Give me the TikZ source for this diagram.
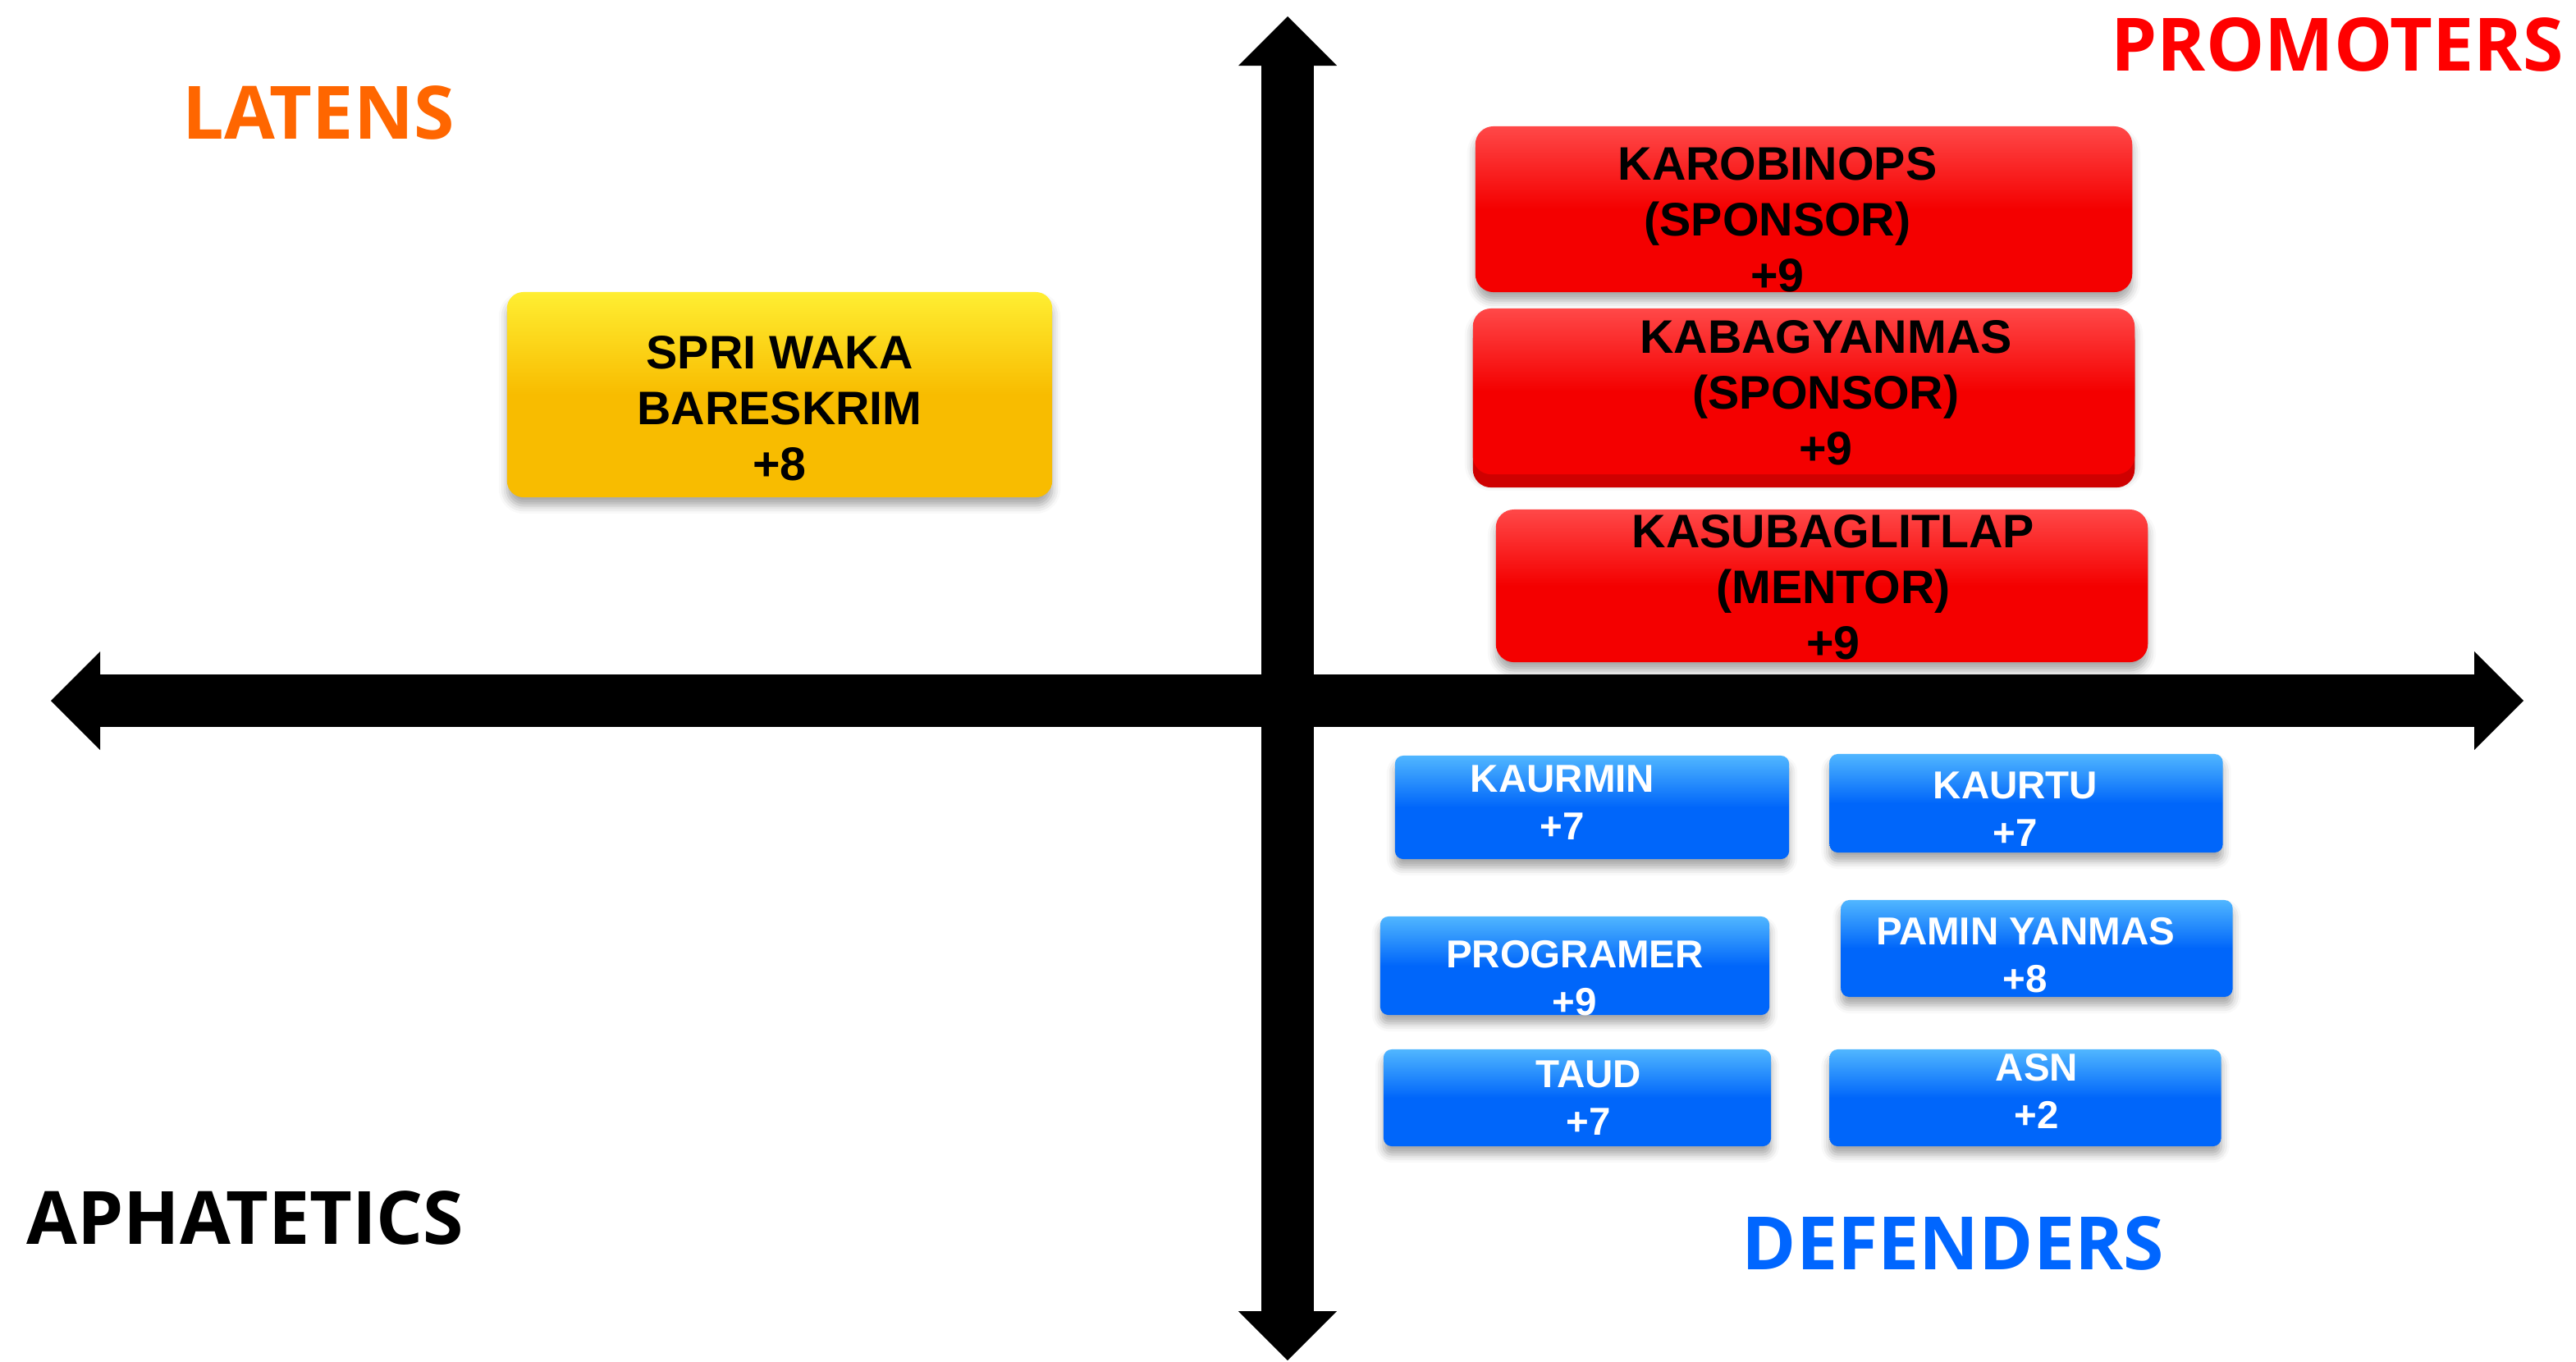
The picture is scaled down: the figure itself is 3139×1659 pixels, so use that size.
\documentclass[tikz,border=0pt]{standalone}
\usepackage{fontspec}
\usetikzlibrary{arrows.meta, shadows, shadows.blur}
\newfontfamily\quadfont{Open Sans}
\newfontfamily\boxfont{Liberation Sans}
\definecolor{latorange}{RGB}{255,102,0}
\definecolor{promred}{RGB}{255,0,0}
\definecolor{defblue}{RGB}{0,102,255}
\definecolor{boxred}{RGB}{244,0,0}
\definecolor{boxredtop}{RGB}{255,72,72}
\definecolor{boxgold}{RGB}{248,188,0}
\definecolor{boxgoldtop}{RGB}{255,238,50}
\definecolor{boxblue}{RGB}{0,102,250}
\definecolor{boxbluetop}{RGB}{80,182,255}
\tikzset{
    quadlbl/.style={font=\quadfont\bfseries\fontsize{25.5}{30}\selectfont, inner sep=0pt},
    glossbox/.style={rectangle, draw=none, blur shadow={shadow xshift=0pt, shadow yshift=-1mm, shadow blur radius=1mm, shadow opacity=35}},
    redbox/.style={glossbox, rounded corners=2.2mm, top color=boxredtop, bottom color=boxred, middle color=boxred},
    goldbox/.style={glossbox, rounded corners=2mm, top color=boxgoldtop, bottom color=boxgold, middle color=boxgold},
    bluebox/.style={glossbox, rounded corners=1mm, top color=boxbluetop, bottom color=boxblue, middle color=boxblue},
    bigtxt/.style={font=\boxfont\bfseries\fontsize{16.3}{19.3}\selectfont, align=center, text=black},
    smalltxt/.style={font=\boxfont\bfseries\fontsize{13.5}{16.5}\selectfont, align=center, text=white},
    axis/.style={line width=6.4mm, {Triangle[length=6mm, width=12mm, line width=0pt]}-{Triangle[length=6mm, width=12mm, line width=0pt]}},
}

\begin{document}
\begin{tikzpicture}[x=0.01cm, y=-0.01cm]
\useasboundingbox (0,0) rectangle (3139,1659);

% axes
\coordinate (west) at (62,854);
\coordinate (east) at (3075,854);
\coordinate (north) at (1569,20);
\coordinate (south) at (1569,1658);
\draw[axis] (west) -- (east);
\draw[axis] (north) -- (south);

% quadrant titles
\node[quadlbl, text=latorange] (latens) at (388,137) {LATENS};
\node[quadlbl, text=promred] (promoters) at (2848,54) {PROMOTERS};
\node[quadlbl, text=black] (aphatetics) at (299,1484) {APHATETICS};
\node[quadlbl, text=defblue] (defenders) at (2380,1515) {DEFENDERS};

% latens
\node[goldbox, minimum width=66.4mm, minimum height=25mm,
      label={[bigtxt, yshift=-1.7mm]center:SPRI WAKA\\BARESKRIM\\+8}] (spri) at (950,481) {};

% promoters
\node[redbox, minimum width=80mm, minimum height=20.2mm,
      label={[bigtxt, xshift=-3.2mm, yshift=-1.3mm]center:KAROBINOPS\\(SPONSOR)\\+9}] (karo) at (2198,255) {};
\node[redbox, general shadow={shadow yshift=-1.6mm, fill=boxred!85!black}, minimum width=80.6mm, minimum height=20.2mm,
      label={[bigtxt, xshift=2.7mm, yshift=-0.2mm]center:KABAGYANMAS\\(SPONSOR)\\+9}] (kabag) at (2198,477) {};
\node[redbox, minimum width=79.4mm, minimum height=18.6mm,
      label={[bigtxt, xshift=1.4mm, yshift=-0.2mm]center:KASUBAGLITLAP\\(MENTOR)\\+9}] (kasubag) at (2220,714) {};

% defenders
\node[bluebox, minimum width=48mm, minimum height=12.6mm,
      label={[smalltxt, xshift=-3.6mm, yshift=0.6mm]center:KAURMIN\\+7}] (kaurmin) at (1940,984) {};
\node[bluebox, minimum width=47.9mm, minimum height=12mm,
      label={[smalltxt, xshift=-1.3mm, yshift=-0.7mm]center:KAURTU\\+7}] (kaurtu) at (2469,979) {};
\node[bluebox, minimum width=47.4mm, minimum height=12mm,
      label={[smalltxt, yshift=-1.5mm]center:PROGRAMER\\+9}] (prog) at (1919,1177) {};
\node[bluebox, minimum width=47.7mm, minimum height=11.8mm,
      label={[smalltxt, xshift=-1.4mm, yshift=-0.8mm]center:PAMIN YANMAS\\+8}] (pamin) at (2482,1156) {};
\node[bluebox, minimum width=47.2mm, minimum height=11.8mm,
      label={[smalltxt, xshift=1.4mm]center:TAUD\\+7}] (taud) at (1922,1338) {};
\node[bluebox, minimum width=47.7mm, minimum height=11.8mm,
      label={[smalltxt, xshift=1.4mm, yshift=0.8mm]center:ASN\\+2}] (asn) at (2468,1338) {};

\end{tikzpicture}
\end{document}
